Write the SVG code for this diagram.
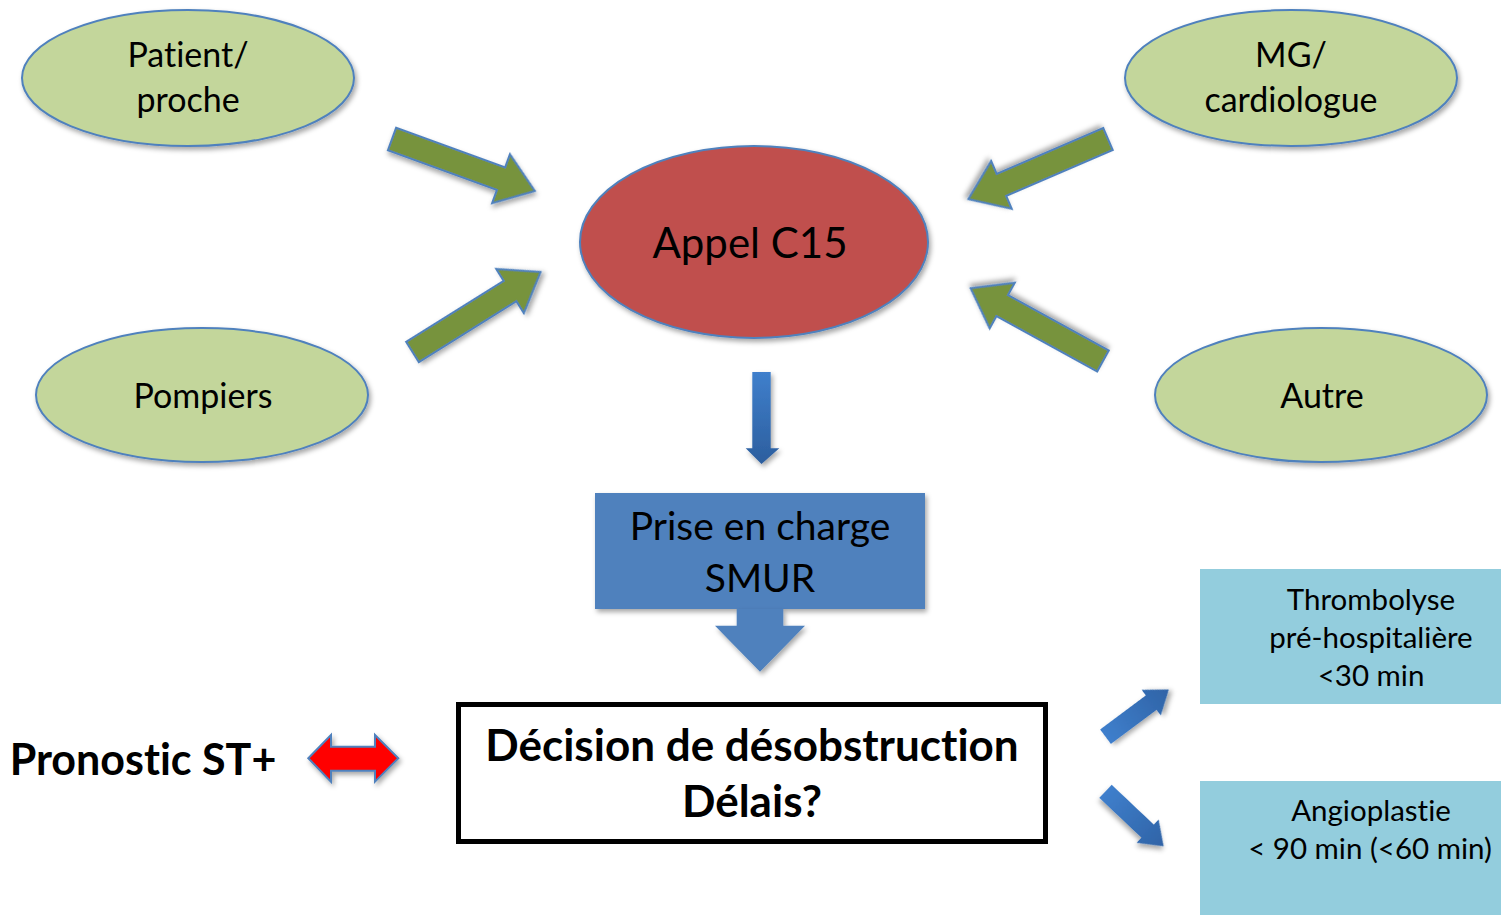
<svg xmlns="http://www.w3.org/2000/svg" width="1501" height="915" viewBox="0 0 1501 915">
  <defs>
    <filter id="shadow" x="-20%" y="-20%" width="140%" height="150%">
      <feDropShadow dx="2" dy="3" stdDeviation="2.5" flood-color="#000" flood-opacity="0.35"/>
    </filter>
    <linearGradient id="blueGrad" x1="0" y1="0" x2="0" y2="1">
      <stop offset="0" stop-color="#3F7FCC"/>
      <stop offset="1" stop-color="#2C5E9E"/>
    </linearGradient>
    <linearGradient id="blueGradSmall" x1="0" y1="0" x2="1" y2="0">
      <stop offset="0" stop-color="#3F7FCC"/>
      <stop offset="1" stop-color="#2F63A6"/>
    </linearGradient>
  </defs>
  <style>
    text { font-family: Lato, "Liberation Sans", sans-serif; fill: #000; text-anchor: middle; font-variant-ligatures: none; }
    .source { fill: #C3D69B; stroke: #4F81BD; stroke-width: 2; filter: url(#shadow); }
    .green-arrow { fill: #77933C; stroke: #4F81BD; stroke-width: 2; filter: url(#shadow); }
    .blue-arrow { fill: url(#blueGradSmall); stroke: none; filter: url(#shadow); }
    .lbl { font-size: 34px; }
    .box-lbl { font-size: 29.5px; }
    .bold { font-weight: bold; }
  </style>

  <rect width="1501" height="915" fill="#FFFFFF"/>

  <!-- sources -->
  <g id="patient">
    <ellipse class="source" cx="188" cy="78" rx="166" ry="68"/>
    <text class="lbl" x="188" y="67">Patient/</text>
    <text class="lbl" x="188" y="112">proche</text>
  </g>
  <g id="mg">
    <ellipse class="source" cx="1291" cy="78" rx="166" ry="68"/>
    <text class="lbl" x="1291" y="67">MG/</text>
    <text class="lbl" x="1291" y="112">cardiologue</text>
  </g>
  <g id="pompiers">
    <ellipse class="source" cx="202" cy="395" rx="166" ry="67"/>
    <text class="lbl" x="203" y="408">Pompiers</text>
  </g>
  <g id="autre">
    <ellipse class="source" cx="1321" cy="395" rx="166" ry="67"/>
    <text class="lbl" x="1322" y="408">Autre</text>
  </g>

  <!-- central call -->
  <g id="appel-c15">
    <ellipse cx="754" cy="242" rx="174" ry="96" fill="#C0504D" stroke="#4F81BD" stroke-width="2" filter="url(#shadow)"/>
    <text x="750" y="258" font-size="42">Appel C15</text>
  </g>

  <!-- SMUR -->
  <g id="smur">
    <rect x="595" y="493" width="330" height="116" fill="#4F81BD" filter="url(#shadow)"/>
    <text x="760" y="540" font-size="39">Prise en charge</text>
    <text x="760" y="592" font-size="39">SMUR</text>
  </g>

  <!-- decision -->
  <g id="decision">
    <rect x="458.5" y="704.5" width="587" height="137" fill="#FFFFFF" stroke="#000" stroke-width="5"/>
    <text class="bold" x="752" y="761" font-size="44">Décision de désobstruction</text>
    <text class="bold" x="752" y="817" font-size="44">Délais?</text>
  </g>

  <g id="pronostic">
    <text class="bold" x="143" y="775" font-size="43">Pronostic ST+</text>
  </g>

  <g id="thrombolyse">
    <rect x="1200" y="569" width="301" height="135" fill="#93CDDD"/>
    <text class="box-lbl" x="1371" y="610">Thrombolyse</text>
    <text class="box-lbl" x="1371" y="648">pré-hospitalière</text>
    <text class="box-lbl" x="1371" y="686">&lt;30 min</text>
  </g>

  <g id="angioplastie">
    <rect x="1200" y="781" width="301" height="134" fill="#93CDDD"/>
    <text class="box-lbl" x="1371" y="821">Angioplastie</text>
    <text class="box-lbl" x="1370" y="859">&lt; 90 min (&lt;60 min)</text>
  </g>

  <!-- connectors -->
  <g id="connectors">
    <!-- block arrows pointing into the call centre -->
    <path class="green-arrow" transform="translate(392 139) rotate(20)" d="M0,-12 H116 V-26 L152,0 L116,26 V12 H0 Z"/>
    <path class="green-arrow" transform="translate(412.5 352) rotate(-32)" d="M0,-12 H115 V-26 L151,0 L115,26 V12 H0 Z"/>
    <path class="green-arrow" transform="translate(1108 139) rotate(156.7)" d="M0,-12 H116 V-26 L152,0 L116,26 V12 H0 Z"/>
    <path class="green-arrow" transform="translate(1103 361) rotate(-151.2)" d="M0,-12 H115 V-26 L151,0 L115,26 V12 H0 Z"/>

    <!-- call centre to SMUR -->
    <path d="M752.3,372 H770.7 V448.3 H779.3 L761.5,464 L745.7,448.3 H752.3 Z" fill="url(#blueGrad)" filter="url(#shadow)"/>

    <!-- SMUR to decision -->
    <path d="M736.7,609 H783.3 V625.7 H805 L760,671.7 L715,625.7 H736.7 Z" fill="#4F81BD" filter="url(#shadow)"/>

    <!-- decision to treatments -->
    <path class="blue-arrow" transform="translate(1105.5 736.7) rotate(-36.7)" d="M0,-9 H57 V-16 L79,0 L57,16 V9 H0 Z"/>
    <path class="blue-arrow" transform="translate(1105.5 791.3) rotate(43.4)" d="M0,-9 H58 V-16 L80,0 L58,16 V9 H0 Z"/>

    <!-- prognosis link -->
    <path d="M308.3,758.3 L331,735 V746.7 H375 V735 L398.3,758.3 L375,781.7 V770.7 H331 V781.7 Z" fill="#FF0000" stroke="#4F81BD" stroke-width="2" filter="url(#shadow)"/>
  </g>
</svg>
